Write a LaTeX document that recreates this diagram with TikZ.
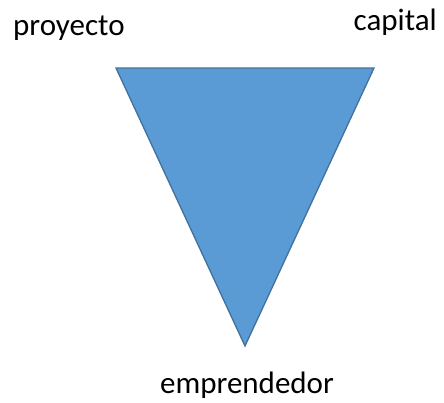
\documentclass[tikz,border=0pt]{standalone}
\usepackage{fontspec}
\setmainfont{Carlito}
\definecolor{tfill}{HTML}{5B9BD5}
\definecolor{tline}{HTML}{41719C}
\begin{document}
\begin{tikzpicture}[x=1pt,y=-1pt,
  lbl/.style={inner sep=0pt,font=\fontsize{31}{36}\selectfont,text=black}]
\useasboundingbox (0,0) rectangle (444,402);
\coordinate (a) at (116,68);
\coordinate (b) at (374,68);
\coordinate (c) at (245,346);
\draw[fill=tfill,draw=tline,line width=1.3pt,line join=miter] (a) -- (b) -- (c) -- cycle;
\node[lbl,anchor=base west] (p) at (13,35) {proyecto};
\node[lbl,anchor=base east] (k) at (437,30) {capital};
\node[lbl,anchor=base] (e) at (247,393) {emprendedor};
\end{tikzpicture}
\end{document}
